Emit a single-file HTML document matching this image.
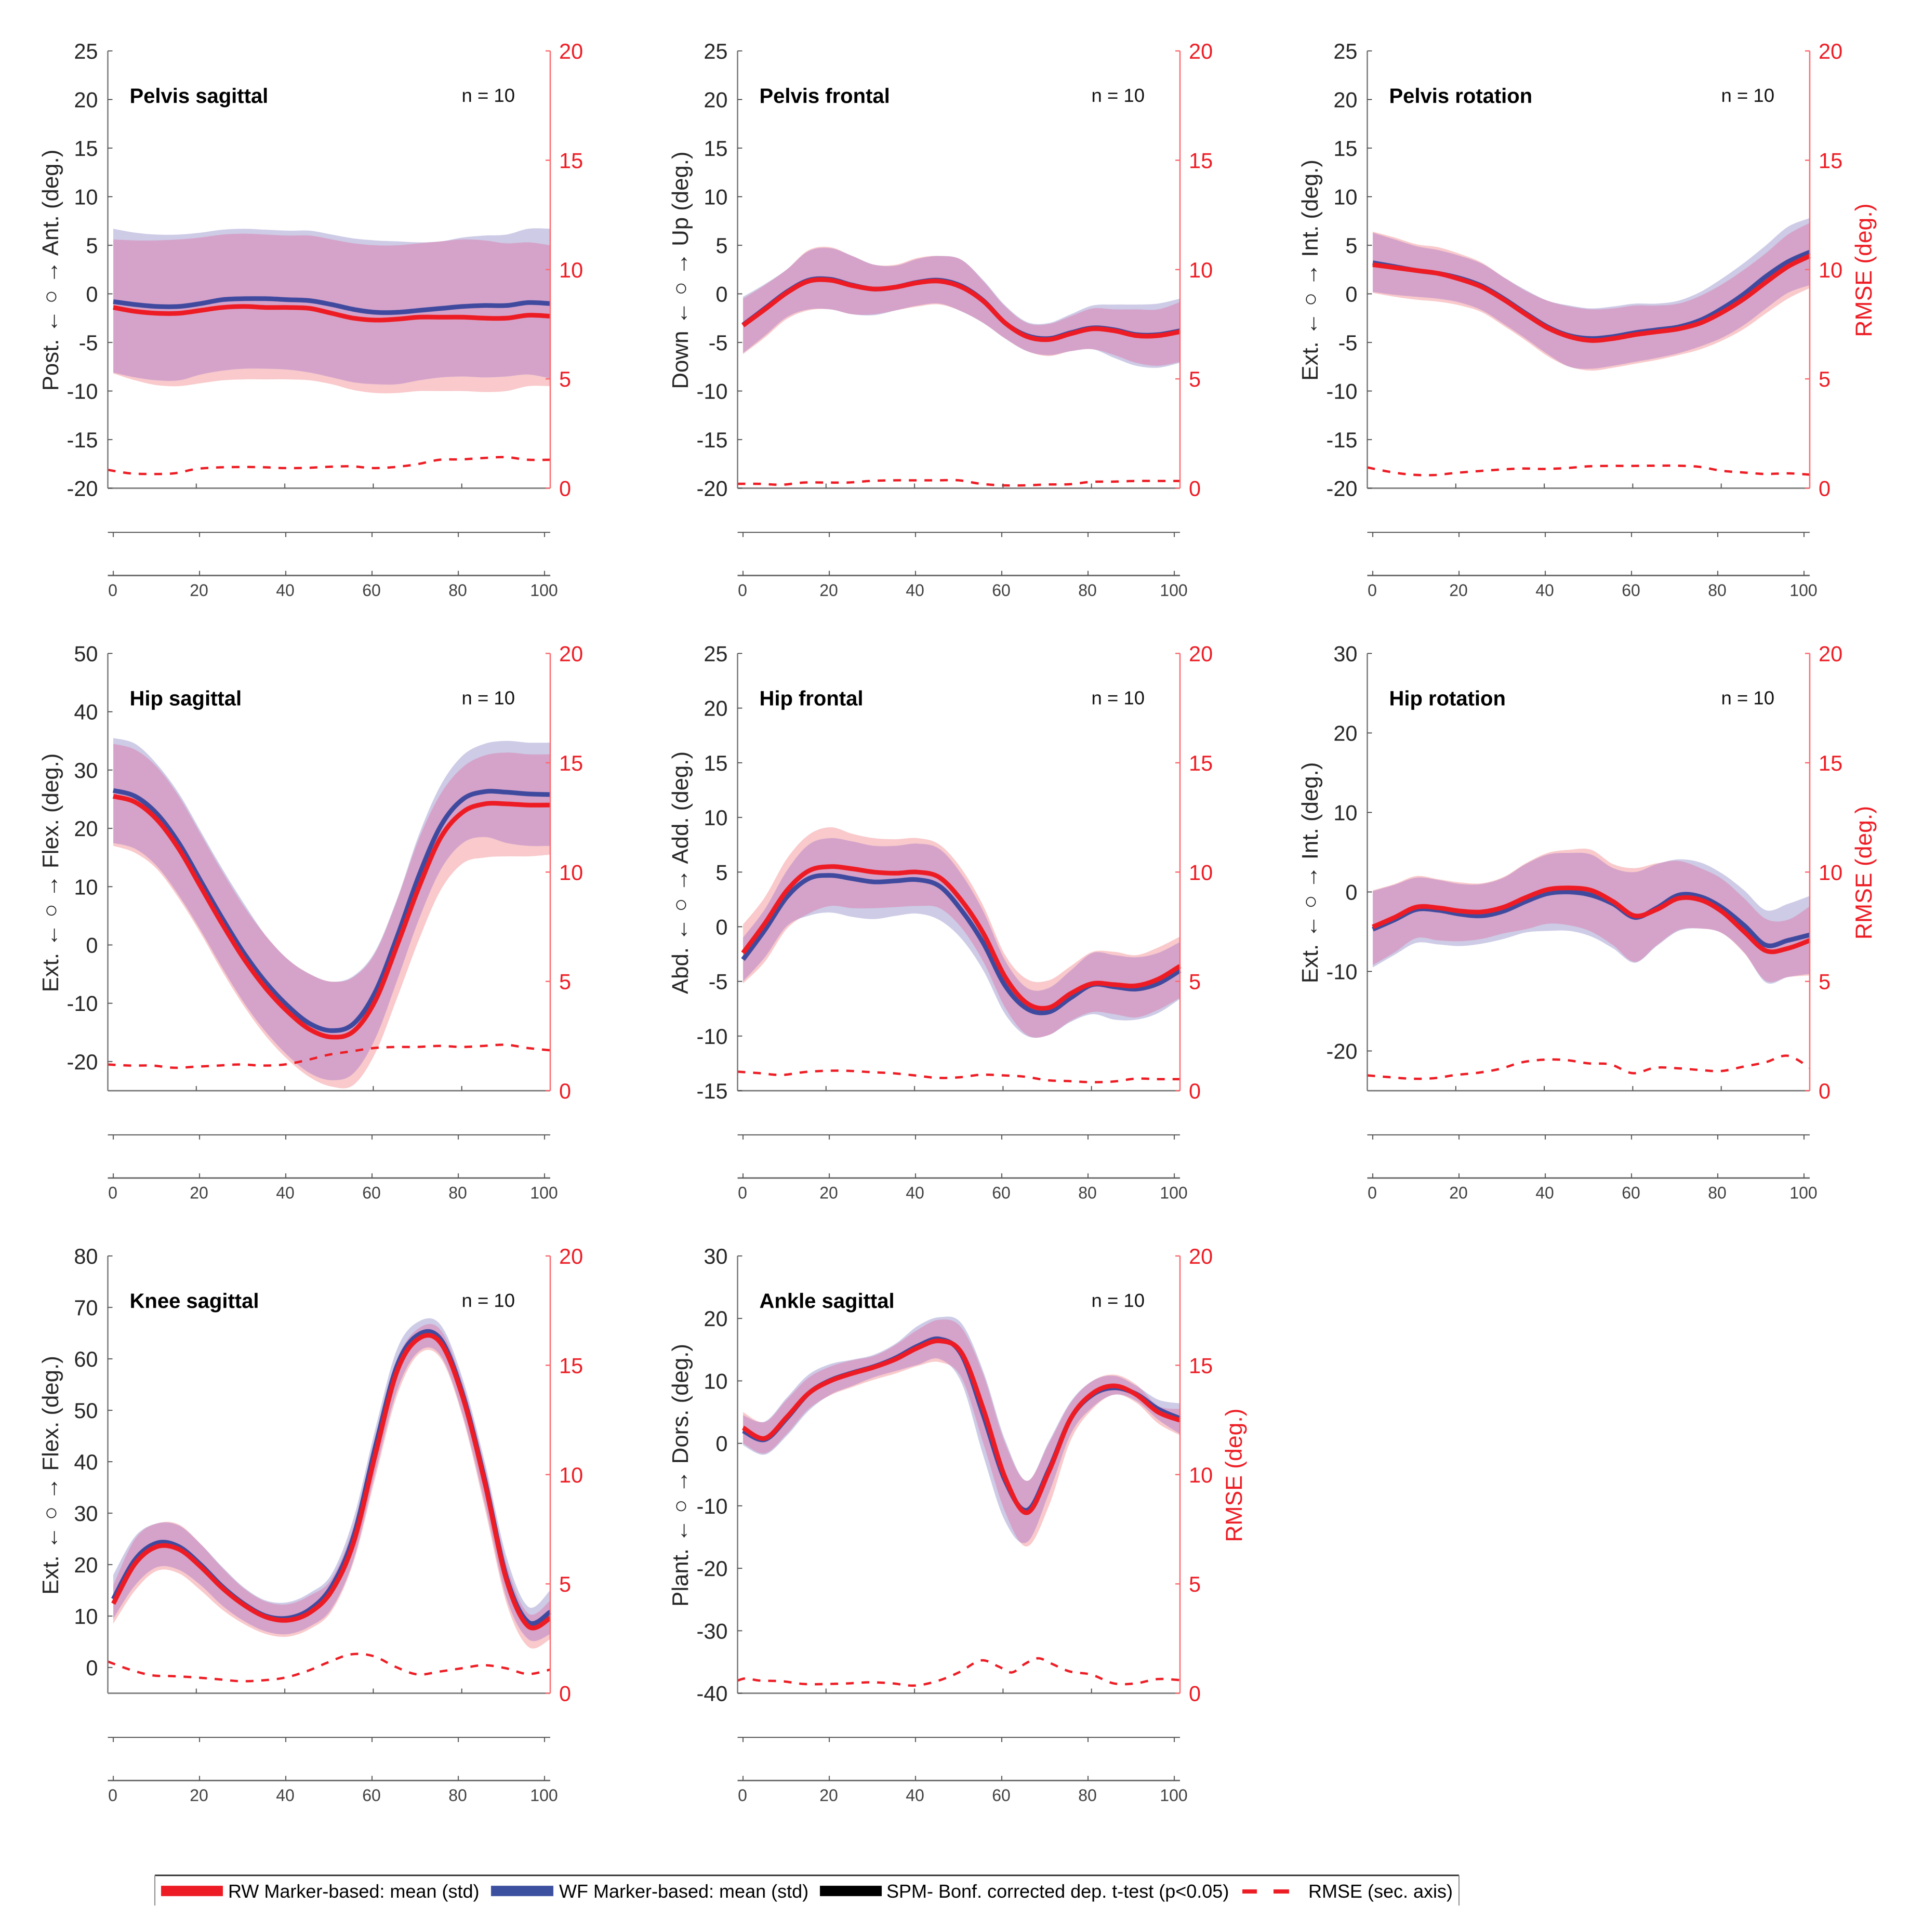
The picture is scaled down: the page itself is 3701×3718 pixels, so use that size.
<!DOCTYPE html>
<html lang="en">
<head>
<meta charset="utf-8">
<title>Joint kinematics: RW vs WF marker-based</title>
<style>
html,body{margin:0;padding:0;background:#fff;}
body{width:3701px;height:3718px;overflow:hidden;}
svg{display:block;font-family:"Liberation Sans",sans-serif;filter:blur(0.8px);}
</style>
</head>
<body>
<svg id="chart" xmlns="http://www.w3.org/2000/svg" width="3701" height="3718" viewBox="0 0 3701 3718"></svg>
<script>
const gaitPercent = [0,5,10,15,20,25,30,35,40,45,50,55,60,65,70,75,80,85,90,95,100];
const subTicks = [0,20,40,60,80,100];
const mainXTicks = [20,40,60,80];
const rmseTicks = [0,5,10,15,20];

const pelvisSagTicks = [-20,-15,-10,-5,0,5,10,15,20,25];
const pelvisSagWfMean = [-0.8,-1.1,-1.3,-1.3,-1.0,-0.6,-0.5,-0.5,-0.6,-0.7,-1.1,-1.6,-1.9,-1.9,-1.7,-1.5,-1.3,-1.2,-1.2,-0.9,-1.0];
const pelvisSagRwMean = [-1.4,-1.8,-2.0,-2.0,-1.7,-1.4,-1.3,-1.4,-1.4,-1.5,-2.0,-2.5,-2.7,-2.6,-2.4,-2.4,-2.4,-2.5,-2.5,-2.2,-2.3];
const pelvisSagWfUpper = [6.7,6.3,6.1,6.1,6.3,6.6,6.7,6.6,6.5,6.5,6.1,5.7,5.5,5.4,5.3,5.4,5.8,6.0,6.1,6.7,6.7];
const pelvisSagRwUpper = [5.6,5.5,5.5,5.6,5.8,6.1,6.2,6.1,6.0,6.0,5.6,5.2,5.0,5.0,5.2,5.4,5.6,5.5,5.2,5.3,5.0];
const pelvisSagWfLower = [-8.1,-8.6,-8.9,-8.9,-8.3,-7.9,-7.7,-7.7,-7.8,-8.1,-8.6,-9.1,-9.3,-9.3,-8.9,-8.6,-8.5,-8.6,-8.5,-8.3,-8.7];
const pelvisSagRwLower = [-8.2,-8.9,-9.4,-9.5,-9.2,-8.9,-8.8,-8.8,-8.8,-8.9,-9.3,-9.9,-10.2,-10.2,-10.0,-10.0,-10.0,-10.1,-10.0,-9.5,-9.5];
const pelvisSagRmse = [0.84,0.68,0.65,0.68,0.88,0.95,0.97,0.96,0.92,0.93,0.98,1.0,0.92,0.97,1.1,1.3,1.32,1.38,1.42,1.3,1.3];

const pelvisFroTicks = [-20,-15,-10,-5,0,5,10,15,20,25];
const pelvisFroWfMean = [-3.2,-1.5,0.2,1.4,1.5,0.9,0.5,0.7,1.2,1.4,0.8,-0.7,-3.0,-4.3,-4.6,-4.0,-3.5,-3.7,-4.2,-4.2,-3.8];
const pelvisFroRwMean = [-3.25,-1.6,0.1,1.3,1.4,0.85,0.5,0.7,1.15,1.3,0.7,-0.75,-3.0,-4.4,-4.7,-4.1,-3.6,-3.8,-4.3,-4.3,-3.9];
const pelvisFroWfUpper = [-0.3,1.0,2.5,4.4,4.7,3.9,3.0,2.9,3.6,3.9,3.5,1.4,-1.2,-2.9,-3.0,-2.1,-1.2,-1.1,-1.1,-1.0,-0.5];
const pelvisFroRwUpper = [-0.5,0.9,2.5,4.5,4.8,3.9,3.0,3.0,3.7,3.9,3.5,1.3,-1.3,-3.0,-3.1,-2.3,-1.5,-1.6,-1.6,-1.6,-0.85];
const pelvisFroWfLower = [-6.1,-4.3,-2.4,-1.6,-1.6,-2.1,-2.2,-1.7,-1.2,-1.0,-1.8,-3.0,-4.6,-5.9,-6.3,-5.9,-5.7,-6.6,-7.4,-7.6,-7.1];
const pelvisFroRwLower = [-6.2,-4.5,-2.6,-1.7,-1.6,-2.1,-2.1,-1.7,-1.3,-1.1,-1.8,-3.0,-4.6,-5.9,-6.4,-5.9,-5.7,-6.3,-7.1,-7.4,-7.0];
const pelvisFroRmse = [0.2,0.2,0.16,0.26,0.26,0.26,0.33,0.36,0.36,0.36,0.36,0.2,0.13,0.13,0.17,0.18,0.29,0.3,0.33,0.33,0.33];

const pelvisRotTicks = [-20,-15,-10,-5,0,5,10,15,20,25];
const pelvisRotWfMean = [3.2,2.8,2.4,2.1,1.6,0.8,-0.5,-2.0,-3.4,-4.3,-4.6,-4.4,-4.0,-3.7,-3.4,-2.7,-1.5,0,1.8,3.3,4.3];
const pelvisRotRwMean = [3.0,2.7,2.4,2.1,1.5,0.7,-0.6,-2.1,-3.5,-4.4,-4.8,-4.6,-4.2,-3.9,-3.6,-3.0,-1.9,-0.5,1.2,2.8,3.9];
const pelvisRotWfUpper = [6.3,5.6,4.9,4.5,3.9,3.1,1.7,0.4,-0.7,-1.2,-1.5,-1.3,-1.0,-1.0,-0.7,0.2,1.6,3.2,5.0,6.9,7.8];
const pelvisRotRwUpper = [6.4,5.8,5.1,4.8,4.1,3.2,1.7,0.3,-0.7,-1.3,-1.6,-1.5,-1.2,-1.2,-1.0,-0.2,1.0,2.5,4.2,6.1,7.3];
const pelvisRotWfLower = [0.2,-0.1,-0.3,-0.5,-0.9,-1.7,-3.1,-4.6,-6.2,-7.5,-7.7,-7.4,-7.0,-6.6,-6.1,-5.4,-4.5,-3.2,-1.5,0.1,0.9];
const pelvisRotRwLower = [0.1,-0.3,-0.6,-0.8,-1.2,-1.9,-3.3,-4.8,-6.4,-7.5,-7.9,-7.6,-7.2,-6.8,-6.3,-5.7,-4.8,-3.6,-2.0,-0.5,0.6];
const pelvisRotRmse = [0.95,0.75,0.62,0.6,0.7,0.78,0.85,0.9,0.88,0.92,1.0,1.02,1.02,1.03,1.03,0.98,0.8,0.72,0.65,0.68,0.62];

const hipSagTicks = [-20,-10,0,10,20,30,40,50];
const hipSagWfMean = [26.5,25.5,22.5,17.5,11,4.5,-1.5,-6.5,-10.5,-13.5,-14.7,-13.5,-8,1.5,12,20.5,25,26.3,26.2,25.9,25.8];
const hipSagRwMean = [25.5,24.5,21.5,16.5,10,3.5,-2.5,-7.5,-11.5,-14.5,-15.8,-14.8,-9.5,0,10,18.5,22.8,24.2,24.2,24.0,24.0];
const hipSagWfUpper = [35.5,34.5,31,26,19.5,13,7,1.5,-2.5,-5,-6.3,-5.3,-1,8,19,27.5,32.5,34.5,35,34.7,34.7];
const hipSagRwUpper = [34.5,33.5,30.5,25.5,19,12.5,6.5,1.5,-2.5,-5.0,-6.3,-5.5,-1.3,7.8,18.3,26,30.5,32.5,33,32.7,32.7];
const hipSagWfLower = [17.5,16.5,13.5,8.5,2.5,-4,-10,-15,-19,-22,-23.2,-22,-16,-6,4.5,13,17.5,18.5,17.5,17,17];
const hipSagRwLower = [17,15.8,13,8,2,-4.6,-10.6,-15.7,-19.7,-22.7,-24.3,-24,-18.5,-9,1,9.5,14,15,15.2,15.2,15.5];
const hipSagRmse = [1.2,1.15,1.15,1.05,1.1,1.15,1.2,1.15,1.2,1.4,1.65,1.8,1.95,2.0,2.0,2.05,2.0,2.05,2.1,1.95,1.85];

const hipFroTicks = [-15,-10,-5,0,5,10,15,20,25];
const hipFroWfMean = [-3,-0.3,2.7,4.4,4.7,4.4,4.1,4.2,4.3,3.7,1.5,-1.5,-5.4,-7.5,-7.8,-6.5,-5.3,-5.5,-5.7,-5.2,-4];
const hipFroRwMean = [-2.4,0.3,3.3,5.1,5.5,5.3,5,4.9,5,4.5,2.4,-0.6,-4.6,-7,-7.4,-6.1,-5.2,-5.3,-5.4,-4.8,-3.6];
const hipFroWfUpper = [-1,1.6,5.1,7.5,8.1,7.8,7.4,7.4,7.6,7.1,4.8,1.4,-3.1,-5.6,-5.6,-4,-2.4,-2.6,-2.8,-2.4,-1.4];
const hipFroRwUpper = [0.2,2.7,6.2,8.4,9.1,8.5,8.1,8,8.1,7.5,5.3,1.9,-2.6,-4.8,-4.9,-3.6,-2.3,-2.3,-2.6,-1.9,-0.9];
const hipFroWfLower = [-5,-2.8,0.05,1,1.3,0.9,0.7,1,1.2,0.6,-1.1,-4,-8,-10,-9.9,-8.7,-8,-8.5,-8.5,-7.9,-6.6];
const hipFroRwLower = [-5.2,-3.2,-0.2,1.2,1.9,1.7,1.7,1.8,1.9,1.7,-0.1,-3.2,-7.4,-9.9,-9.9,-8.6,-7.8,-8,-8.3,-7.6,-6.5];
const hipFroRmse = [0.87,0.8,0.72,0.85,0.91,0.91,0.85,0.8,0.7,0.59,0.61,0.73,0.7,0.64,0.48,0.44,0.39,0.42,0.55,0.53,0.53];

const hipRotTicks = [-20,-10,0,10,20,30];
const hipRotWfMean = [-4.7,-3.5,-2.2,-2.3,-2.8,-3.0,-2.4,-1.2,-0.2,0,-0.4,-1.5,-3.2,-2.0,-0.4,-0.6,-2.0,-4.2,-6.7,-6.1,-5.4];
const hipRotRwMean = [-4.4,-3.2,-1.9,-2.0,-2.4,-2.5,-1.9,-0.7,0.3,0.5,0.2,-1.2,-3.0,-2.2,-0.8,-1.0,-2.5,-5,-7.4,-7.1,-6.1];
const hipRotWfUpper = [0.1,0.9,1.8,1.5,1.0,1.0,1.8,3.5,4.7,4.9,4.7,3.0,2.5,3.5,4.1,3.7,2.3,0.2,-2.3,-1.5,-0.5];
const hipRotRwUpper = [0.2,1.0,2.0,1.6,1.2,1.1,1.9,3.6,4.9,5.3,5.3,3.5,3.0,3.6,3.9,3.0,1.6,-0.8,-3.4,-3.5,-1.8];
const hipRotWfLower = [-9.5,-7.9,-6.4,-6.6,-6.8,-6.5,-5.9,-5.1,-4.9,-4.9,-5.6,-7.1,-8.9,-6.8,-4.9,-4.6,-5.2,-7.6,-11.4,-10.7,-10.3];
const hipRotRwLower = [-9.2,-7.6,-5.8,-6.1,-6.2,-5.9,-5.2,-4.7,-4.0,-4.2,-5.0,-6.7,-8.8,-6.7,-4.8,-4.6,-5.2,-7.7,-11.2,-10.7,-10.5];
const hipRotRmse = [0.7,0.62,0.55,0.57,0.72,0.82,1.0,1.3,1.42,1.4,1.25,1.2,0.8,1.05,1.03,0.95,0.9,1.1,1.3,1.6,1.05];

const kneeSagTicks = [0,10,20,30,40,50,60,70,80];
const kneeSagWfMean = [13.3,21,24.2,23.5,20,15.7,12.3,10,9.6,11.3,15.8,25.5,43,58.8,64.8,63.7,53,36.5,17.5,8.8,10.8];
const kneeSagRwMean = [12.4,20.2,23.5,23,19.6,15.4,12.1,9.8,9.2,10.7,14.9,24.3,41.5,57.7,64,63,52.5,36,17,8,9.6];
const kneeSagWfUpper = [18,25.5,28,27.6,24,19.5,15.5,13,12.7,14.5,18.2,29,46.5,62,67.3,66.5,56,40,21.5,11.8,15];
const kneeSagRwUpper = [16,25,28,27.8,24,19.3,15.3,12.8,12.3,14,17.3,27.5,45,60,66,65.5,55,39,20,10.5,13];
const kneeSagWfLower = [9.5,16,19.5,19,16,12,9,7,6.5,8,11.5,21,38,54,61.5,60.5,49,32,13.5,5.5,6.5];
const kneeSagRwLower = [8.5,15,18.8,18.3,15,11.2,8.4,6.5,6,7.5,11,20.5,37,53,61,60,48.5,31,12.5,4,5.5];
const kneeSagRmse = [1.45,1.08,0.82,0.78,0.72,0.64,0.55,0.59,0.71,1.01,1.43,1.78,1.7,1.21,0.86,0.99,1.14,1.28,1.14,0.88,1.08];

const ankleSagTicks = [-40,-30,-20,-10,0,10,20,30];
const ankleSagWfMean = [2.0,0.6,4.0,8.0,10.1,11.3,12.3,13.7,15.6,16.7,14.2,4.5,-6,-10.7,-4.2,4,7.8,8.9,7.9,5.5,4.0];
const ankleSagRwMean = [2.5,0.8,4.2,8,10.0,11.2,12.2,13.5,15.3,16.4,14.5,5.5,-5.5,-11.1,-4.5,4,8,9.2,7.8,5,3.7];
const ankleSagWfUpper = [4.5,3.5,7.3,11,12.7,13.4,14.2,16,18.8,20.2,19.2,11.5,0.5,-6,0.3,6.7,10,10.8,9.2,7,6.4];
const ankleSagRwUpper = [5.0,3.4,7,10.5,12.3,13.3,14.0,15.8,18.2,19.8,18.5,11,0,-6,0,6.5,10,11,9.4,6.0,5.5];
const ankleSagWfLower = [-0.3,-1.8,1.2,5.2,7.8,9.2,10.6,11.6,12.6,13.5,9.7,-2,-12.5,-15.8,-8,1.5,5.8,7.8,6.8,3.8,1.5];
const ankleSagRwLower = [0,-1.6,1.5,5.5,7.7,9,10.2,11.2,12.4,13,10.5,0,-11,-16.5,-10,0.5,5.5,7.8,6.5,3.2,1.3];
const ankleSagRmseX = [0,2,5,10,15,20,25,30,35,40,45,50,55,59,62,65,68,71,75,80,85,90,95,100];
const ankleSagRmse = [0.58,0.68,0.58,0.55,0.42,0.42,0.45,0.5,0.45,0.35,0.55,0.95,1.5,1.22,0.95,1.35,1.6,1.35,1.0,0.85,0.45,0.45,0.65,0.6];

const panels = [
 {key:'pelvis-sagittal',title:'Pelvis sagittal',ylabel:'Post. \u2190 \u25CB \u2192 Ant. (deg.)',col:0,row:0,min:-20,max:25,ticks:pelvisSagTicks,rw:pelvisSagRwMean,wf:pelvisSagWfMean,rwU:pelvisSagRwUpper,rwL:pelvisSagRwLower,wfU:pelvisSagWfUpper,wfL:pelvisSagWfLower,rmse:pelvisSagRmse,rmseX:gaitPercent,rmseTitle:false},
 {key:'pelvis-frontal',title:'Pelvis frontal',ylabel:'Down \u2190 \u25CB \u2192 Up (deg.)',col:1,row:0,min:-20,max:25,ticks:pelvisFroTicks,rw:pelvisFroRwMean,wf:pelvisFroWfMean,rwU:pelvisFroRwUpper,rwL:pelvisFroRwLower,wfU:pelvisFroWfUpper,wfL:pelvisFroWfLower,rmse:pelvisFroRmse,rmseX:gaitPercent,rmseTitle:false},
 {key:'pelvis-rotation',title:'Pelvis rotation',ylabel:'Ext. \u2190 \u25CB \u2192 Int. (deg.)',col:2,row:0,min:-20,max:25,ticks:pelvisRotTicks,rw:pelvisRotRwMean,wf:pelvisRotWfMean,rwU:pelvisRotRwUpper,rwL:pelvisRotRwLower,wfU:pelvisRotWfUpper,wfL:pelvisRotWfLower,rmse:pelvisRotRmse,rmseX:gaitPercent,rmseTitle:true},
 {key:'hip-sagittal',title:'Hip sagittal',ylabel:'Ext. \u2190 \u25CB \u2192 Flex. (deg.)',col:0,row:1,min:-25,max:50,ticks:hipSagTicks,rw:hipSagRwMean,wf:hipSagWfMean,rwU:hipSagRwUpper,rwL:hipSagRwLower,wfU:hipSagWfUpper,wfL:hipSagWfLower,rmse:hipSagRmse,rmseX:gaitPercent,rmseTitle:false},
 {key:'hip-frontal',title:'Hip frontal',ylabel:'Abd. \u2190 \u25CB \u2192 Add. (deg.)',col:1,row:1,min:-15,max:25,ticks:hipFroTicks,rw:hipFroRwMean,wf:hipFroWfMean,rwU:hipFroRwUpper,rwL:hipFroRwLower,wfU:hipFroWfUpper,wfL:hipFroWfLower,rmse:hipFroRmse,rmseX:gaitPercent,rmseTitle:false},
 {key:'hip-rotation',title:'Hip rotation',ylabel:'Ext. \u2190 \u25CB \u2192 Int. (deg.)',col:2,row:1,min:-25,max:30,ticks:hipRotTicks,rw:hipRotRwMean,wf:hipRotWfMean,rwU:hipRotRwUpper,rwL:hipRotRwLower,wfU:hipRotWfUpper,wfL:hipRotWfLower,rmse:hipRotRmse,rmseX:gaitPercent,rmseTitle:true},
 {key:'knee-sagittal',title:'Knee sagittal',ylabel:'Ext. \u2190 \u25CB \u2192 Flex. (deg.)',col:0,row:2,min:-5,max:80,ticks:kneeSagTicks,rw:kneeSagRwMean,wf:kneeSagWfMean,rwU:kneeSagRwUpper,rwL:kneeSagRwLower,wfU:kneeSagWfUpper,wfL:kneeSagWfLower,rmse:kneeSagRmse,rmseX:gaitPercent,rmseTitle:false},
 {key:'ankle-sagittal',title:'Ankle sagittal',ylabel:'Plant. \u2190 \u25CB \u2192 Dors. (deg.)',col:1,row:2,min:-40,max:30,ticks:ankleSagTicks,rw:ankleSagRwMean,wf:ankleSagWfMean,rwU:ankleSagRwUpper,rwL:ankleSagRwLower,wfU:ankleSagWfUpper,wfL:ankleSagWfLower,rmse:ankleSagRmse,rmseX:ankleSagRmseX,rmseTitle:true}
];

const NS = 'http://www.w3.org/2000/svg';
const svg = document.getElementById('chart');
const defs = document.createElementNS(NS,'defs');
svg.appendChild(defs);

const COL_X = [207.5,1419.5,2631.5], ROW_Y = [98,1257.5,2417], PW = 851.5, PH = 841.5;
const RED = '#ed1c24', BLUE = '#3f4a9f', RED_BAND = '#f9c9cb', BLUE_BAND = '#cdcbe6', BOTH_BAND = '#d5a3c9', RIGHT_AXIS = '#fb6a70';

function mk(parent, tag, attrs, txt){
  const e = document.createElementNS(NS, tag);
  for (const k in attrs) e.setAttribute(k, attrs[k]);
  if (txt !== undefined) e.textContent = txt;
  parent.appendChild(e);
  return e;
}
function spline(pts){
  let d = '';
  for (let i=0;i<pts.length-1;i++){
    const p0=pts[Math.max(i-1,0)],p1=pts[i],p2=pts[i+1],p3=pts[Math.min(i+2,pts.length-1)];
    const c1x=p1[0]+(p2[0]-p0[0])/6,c1y=p1[1]+(p2[1]-p0[1])/6,c2x=p2[0]-(p3[0]-p1[0])/6,c2y=p2[1]-(p3[1]-p1[1])/6;
    d += 'C'+c1x.toFixed(1)+' '+c1y.toFixed(1)+' '+c2x.toFixed(1)+' '+c2y.toFixed(1)+' '+p2[0].toFixed(1)+' '+p2[1].toFixed(1);
  }
  return d;
}
function linePath(pts){ return 'M'+pts[0][0].toFixed(1)+' '+pts[0][1].toFixed(1)+spline(pts); }
function bandPath(upper,lower){
  const rev = lower.slice().reverse();
  return linePath(upper)+'L'+rev[0][0].toFixed(1)+' '+rev[0][1].toFixed(1)+spline(rev)+'Z';
}

panels.forEach(function(p){
  const L = COL_X[p.col], T = ROW_Y[p.row], R = L+PW, B = T+PH;
  const g = mk(svg,'g',{});
  
  

  const xData = function(v){ return L+10.5+(v/100)*(PW-10.5); };
  const xRmse = function(v){ return L+(v/100)*PW; };
  const xMain = function(v){ return L+(v/100)*PW; };
  const xSub = function(v){ return L+10.5+(v/100)*830; };
  const yData = function(v){ return B-(v-p.min)/(p.max-p.min)*PH; };
  const yRmse = function(v){ return B-(v/20)*PH; };
  const series = function(a){ return a.map(function(v,i){ return [xData(gaitPercent[i]),yData(v)]; }); };

  const rwBand = bandPath(series(p.rwU),series(p.rwL));
  const wfBand = bandPath(series(p.wfU),series(p.wfL));

  const bandRw = mk(g,'path',{d:rwBand,fill:RED_BAND});
  
  

  const bandWf = mk(g,'path',{d:wfBand,fill:BLUE_BAND});
  
  

  const clip = mk(defs,'clipPath',{id:'clip-'+p.key});
  mk(clip,'path',{d:rwBand});
  const bandBoth = mk(g,'path',{d:wfBand,fill:BOTH_BAND,'clip-path':'url(#clip-'+p.key+')'});
  
  

  const lineWf = mk(g,'path',{d:linePath(series(p.wf)),fill:'none',stroke:BLUE,'stroke-width':9});
  
  

  const lineRw = mk(g,'path',{d:linePath(series(p.rw)),fill:'none',stroke:RED,'stroke-width':9});
  
  

  const rmsePts = p.rmse.map(function(v,i){ return [xRmse(p.rmseX[i]),yRmse(v)]; });
  const lineRmse = mk(g,'path',{d:linePath(rmsePts),fill:'none',stroke:RED,'stroke-width':4.5,'stroke-dasharray':'15 15'});
  
  

  const axisLeft = mk(g,'line',{x1:L,y1:T,x2:L,y2:B,stroke:'#777',"stroke-width":2.5});
  
  

  const axisBottom = mk(g,'line',{x1:L,y1:B,x2:R,y2:B,stroke:'#808080',"stroke-width":3});
  
  

  const axisRight = mk(g,'line',{x1:R,y1:T,x2:R,y2:B,stroke:RIGHT_AXIS,"stroke-width":2.5});
  
  

  p.ticks.forEach(function(v){
    const tick = mk(g,'line',{x1:L,y1:yData(v),x2:L+9,y2:yData(v),stroke:'#555',"stroke-width":2});
    
    
    const lab = mk(g,'text',{x:L-19,y:yData(v)+15,'text-anchor':'end','font-size':41.5,fill:'#262626'},String(v));
    
    
  });
  rmseTicks.forEach(function(v){
    const tick = mk(g,'line',{x1:R,y1:yRmse(v),x2:R-9,y2:yRmse(v),stroke:RIGHT_AXIS,"stroke-width":2.5});
    
    
    const lab = mk(g,'text',{x:R+17,y:yRmse(v)+15,'font-size':41.5,fill:RED},String(v));
    
    
  });
  mainXTicks.forEach(function(v){
    const tick = mk(g,'line',{x1:xMain(v),y1:B,x2:xMain(v),y2:B-9,stroke:'#555',"stroke-width":2});
    
    
  });

  const subY1 = B+85, subY2 = B+168;
  const subA = mk(g,'line',{x1:L,y1:subY1,x2:R,y2:subY1,stroke:'#555',"stroke-width":2});
  
  
  const subB = mk(g,'line',{x1:L,y1:subY2,x2:R,y2:subY2,stroke:'#6e6e6e',"stroke-width":3});
  
  
  subTicks.forEach(function(v){
    const t1 = mk(g,'line',{x1:xSub(v),y1:subY1,x2:xSub(v),y2:subY1+9,stroke:'#555',"stroke-width":2});
    
    
    const t2 = mk(g,'line',{x1:xSub(v),y1:subY2,x2:xSub(v),y2:subY2-9,stroke:'#555',"stroke-width":2});
    
    
    const lab = mk(g,'text',{x:xSub(v)-1,y:B+207.5,'text-anchor':'middle','font-size':32,fill:'#404040'},String(v));
    
    
  });

  const title = mk(g,'text',{x:L+42,y:T+100,'font-size':40,'font-weight':'bold',fill:'#000'},p.title);
  
  

  const nLabel = mk(g,'text',{x:L+681,y:T+98,'font-size':36.5,fill:'#111'},'n = 10');
  
  

  const yl = mk(g,'text',{transform:'translate('+(L-95.5)+' '+(T+422)+') rotate(-90)','text-anchor':'middle','font-size':43.8,fill:'#262626'},p.ylabel);
  
  

  if (p.rmseTitle){
    const rl = mk(g,'text',{transform:'translate('+(R+119)+' '+(T+422)+') rotate(-90)','text-anchor':'middle','font-size':44.5,fill:RED},'RMSE (deg.)');
    
    
  }
});

const legend = mk(svg,'g',{});



const legendTop = mk(legend,'line',{x1:298,y1:3609,x2:2808,y2:3609,stroke:'#333','stroke-width':3});


const legendL = mk(legend,'line',{x1:298,y1:3609,x2:298,y2:3667,stroke:'#888','stroke-width':2});


const legendR = mk(legend,'line',{x1:2808,y1:3609,x2:2808,y2:3667,stroke:'#888','stroke-width':2});



const sw1 = mk(legend,'rect',{x:310,y:3629,width:119,height:20,fill:RED});


const tx1 = mk(legend,'text',{x:439,y:3652,'font-size':36,fill:'#000'},'RW Marker-based: mean (std)');



const sw2 = mk(legend,'rect',{x:945,y:3629,width:120,height:20,fill:'#3c50a0'});


const tx2 = mk(legend,'text',{x:1076,y:3652,'font-size':36,fill:'#000'},'WF Marker-based: mean (std)');



const sw3 = mk(legend,'rect',{x:1578,y:3629,width:119,height:20,fill:'#000'});


const tx3 = mk(legend,'text',{x:1706,y:3652,'font-size':36,fill:'#000'},'SPM- Bonf. corrected dep. t-test (p<0.05)');



const sw4a = mk(legend,'rect',{x:2391,y:3636,width:28,height:8,fill:RED});


const sw4b = mk(legend,'rect',{x:2451,y:3636,width:30,height:8,fill:RED});


const tx4 = mk(legend,'text',{x:2518,y:3652,'font-size':36,fill:'#000'},'RMSE (sec. axis)');


</script>
</body>
</html>
